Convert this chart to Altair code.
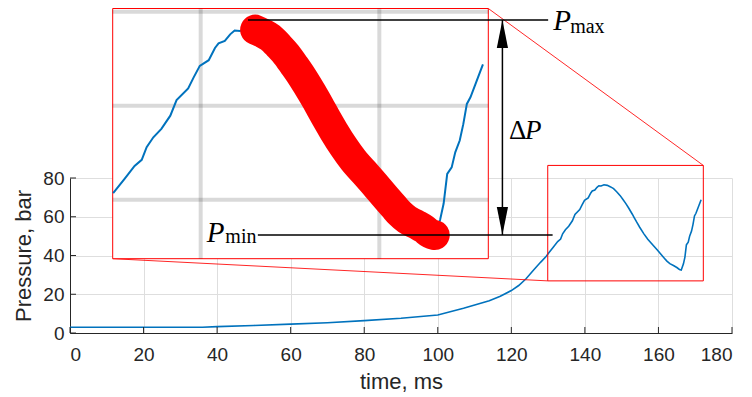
import altair as alt
import pandas as pd

# ---------------- data ----------------
TIME = [0, 36, 40, 50, 60, 70, 80, 90, 100, 107, 114, 117, 120, 122, 124, 126, 128, 129.5,
        130.2, 131.5, 132.6, 133.4, 133.95, 134.7, 135.6, 136.6, 137.3, 138.6, 139.2, 139.9,
        140.9, 141.6, 142.0, 142.7, 143.3, 143.8, 144.4, 145.2, 146.1, 147.0, 147.8, 148.7,
        149.6, 150.4, 151.1, 151.9, 152.9, 153.4, 154.1, 154.9, 156.0, 157.1, 158.6,
        159.7, 160.5, 161.6, 162.3, 163.1, 164.2, 165.0, 165.7, 166.2, 166.8, 167.2, 167.6,
        168.1, 168.5, 169.0, 169.4, 169.8, 170.2, 170.9, 171.6]
PRESSURE = [3.0, 3.0, 3.3, 3.9, 4.6, 5.3, 6.4, 7.6, 9.3, 12.8, 16.7, 19.0, 21.9, 24.5, 28.0, 32.4, 36.6, 39.6,
            41.4, 44.5, 47.2, 48.5, 51.2, 53.3, 55.1, 57.9, 61.2, 63.7, 66.0, 68.5,
            69.7, 72.3, 73.3, 73.8, 75.2, 76.0, 75.9, 76.5, 76.2, 75.4, 74.5, 72.8,
            70.9, 68.8, 66.9, 64.5, 61.3, 59.6, 57.2, 54.6, 51.3, 48.4, 45.2,
            42.8, 41.0, 38.6, 37.1, 35.8, 34.7, 33.8, 32.8, 32.5, 35.7, 39.2, 45.5,
            46.9, 50.1, 52.6, 56.1, 60.4, 61.8, 65.3, 68.8]

X_TICKS = [0, 20, 40, 60, 80, 100, 120, 140, 160, 180]
Y_TICKS = [0, 20, 40, 60, 80]
X_DOMAIN = [0, 180]
Y_DOMAIN = [0, 80]

# zoom window drawn on the main axes
ZOOM_T = [129.9, 172.2]
ZOOM_P = [26.9, 86.5]

# inset axes limits and grid
INSET_T = [130.15, 172.2]
INSET_P = [27.47, 80.7]
INSET_GRID_T = [140, 160]
INSET_GRID_P = [40, 60, 80]

# highlighted segment (max -> min)
SEG_T = [146.0, 166.2]

# annotation levels (inset units)
PMAX_LEVEL = 78.26
PMIN_LEVEL = 32.51
PMAX_LINE_T = [145.3, 178.9]
PMIN_LINE_T = [146.4, 179.4]
ARROW_T = 173.78

# ---------------- layout ----------------
W, H = 662, 155
PAD = {"left": 62, "top": 170, "right": 12, "bottom": 62}
INSET_RANGE_X = [42.7, 418.3]
INSET_RANGE_Y = [80.7, -169.5]

BLUE = "#0072BD"
TXT = "#262626"

curve = pd.DataFrame({"t": TIME, "P": PRESSURE})

XS = alt.Scale(domain=X_DOMAIN, nice=False, zero=False)
YS = alt.Scale(domain=Y_DOMAIN, nice=False, zero=False)
XA = alt.Axis(values=X_TICKS, title="time, ms", grid=True, ticks=False,
              labelPadding=12, titlePadding=7, format="d")
YA = alt.Axis(values=Y_TICKS, title="Pressure, bar", grid=True, ticks=False,
              labelPadding=6, titlePadding=7, format="d")


def mx(field):
    return alt.X(f"{field}:Q", scale=XS, axis=XA)


def my(field):
    return alt.Y(f"{field}:Q", scale=YS, axis=YA)


main_line = alt.Chart(curve).mark_line(color=BLUE, strokeWidth=1.6).encode(
    x=mx("t"), y=my("P"))

xt = alt.Chart(pd.DataFrame({"t": X_TICKS})).mark_rule(color=TXT, strokeWidth=1).encode(
    x=mx("t"), y=alt.value(H), y2=alt.value(H - 6))
yt = alt.Chart(pd.DataFrame({"P": Y_TICKS})).mark_rule(color=TXT, strokeWidth=1).encode(
    y=my("P"), x=alt.value(0), x2=alt.value(6))

zoom_rect = alt.Chart(pd.DataFrame({"t": [ZOOM_T[0]], "t2": [ZOOM_T[1]],
                                    "P": [ZOOM_P[0]], "P2": [ZOOM_P[1]]})).mark_rect(
    fillOpacity=0, stroke="red", strokeWidth=1).encode(
    x=mx("t"), x2="t2:Q", y=my("P"), y2="P2:Q")

# inset corners expressed in main-axis units (from the inset layout)
bl_t = INSET_RANGE_X[0] / W * (X_DOMAIN[1] - X_DOMAIN[0])
bl_p = (H - INSET_RANGE_Y[0]) / H * (Y_DOMAIN[1] - Y_DOMAIN[0])
tr_t = INSET_RANGE_X[1] / W * (X_DOMAIN[1] - X_DOMAIN[0])
tr_p = (H - INSET_RANGE_Y[1]) / H * (Y_DOMAIN[1] - Y_DOMAIN[0])
conn = pd.DataFrame({"t": [bl_t, tr_t], "P": [bl_p, tr_p],
                     "t2": [ZOOM_T[0], ZOOM_T[1]], "P2": [ZOOM_P[0], ZOOM_P[1]]})
connectors = alt.Chart(conn).mark_rule(color="red", strokeWidth=1, opacity=0.85).encode(
    x=mx("t"), x2="t2:Q", y=my("P"), y2="P2:Q")

main = alt.layer(main_line, xt, yt, zoom_rect, connectors)

# ---------------- inset ----------------
IXS = alt.Scale(domain=INSET_T, range=INSET_RANGE_X, nice=False, zero=False)
IYS = alt.Scale(domain=INSET_P, range=INSET_RANGE_Y, nice=False, zero=False)


def ix(field):
    return alt.X(f"{field}:Q", scale=IXS, axis=None)


def iy(field):
    return alt.Y(f"{field}:Q", scale=IYS, axis=None)


bg = alt.Chart(pd.DataFrame({"t1": [INSET_T[0]], "t2": [INSET_T[1]],
                             "p1": [INSET_P[0]], "p2": [INSET_P[1]]})).mark_rect(
    fill="white", stroke="red", strokeWidth=1).encode(
    x=ix("t1"), x2="t2:Q", y=iy("p1"), y2="p2:Q")

gv = alt.Chart(pd.DataFrame({"t": INSET_GRID_T, "p1": INSET_P[0], "p2": INSET_P[1]})).mark_rule(
    color="black", opacity=0.15, strokeWidth=4).encode(
    x=ix("t"), y=iy("p1"), y2="p2:Q")
gh = alt.Chart(pd.DataFrame({"p": INSET_GRID_P, "t1": INSET_T[0], "t2": INSET_T[1]})).mark_rule(
    color="black", opacity=0.15, strokeWidth=4).encode(
    y=iy("p"), x=ix("t1"), x2="t2:Q")

inset_line = alt.Chart(curve).transform_filter(alt.datum.t >= INSET_T[0]).mark_line(
    color=BLUE, strokeWidth=2).encode(x=ix("t"), y=iy("P"))

red_seg = alt.Chart(curve).transform_filter(
    (alt.datum.t >= SEG_T[0]) & (alt.datum.t <= SEG_T[1])).mark_line(
    color="red", strokeWidth=30, strokeCap="round", strokeJoin="round",
    interpolate="monotone").encode(x=ix("t"), y=iy("P"))

lines_df = pd.DataFrame({"name": ["max", "min"],
                         "t1": [PMAX_LINE_T[0], PMIN_LINE_T[0]],
                         "t2": [PMAX_LINE_T[1], PMIN_LINE_T[1]],
                         "p": [PMAX_LEVEL, PMIN_LEVEL]})
hlines = alt.Chart(lines_df).mark_rule(color="black", strokeWidth=1.5).encode(
    x=ix("t1"), x2="t2:Q", y=iy("p"))

arrow_df = pd.DataFrame({"t": [ARROW_T], "p1": [PMIN_LEVEL], "p2": [PMAX_LEVEL],
                         "pm": [(PMIN_LEVEL + PMAX_LEVEL) / 2]})
shaft = alt.Chart(arrow_df).mark_rule(color="black", strokeWidth=1.5).encode(
    x=ix("t"), y=iy("p1"), y2="p2:Q")
head_up = alt.Chart(arrow_df).mark_point(
    shape="M0,0L-0.4,2L0.4,2Z", size=784, filled=True, color="black", opacity=1, strokeWidth=0).encode(
    x=ix("t"), y=iy("p2"))
head_dn = alt.Chart(arrow_df).mark_point(
    shape="M0,0L-0.4,-2L0.4,-2Z", size=784, filled=True, color="black", opacity=1, strokeWidth=0).encode(
    x=ix("t"), y=iy("p1"))


def label(flt, xfield, yfield, text, size, italic, dx, dy, data):
    kw = dict(text=text, font="Liberation Serif", fontSize=size, align="left",
              baseline="alphabetic", dx=dx, dy=dy, color="black")
    if italic:
        kw["fontStyle"] = "italic"
    ch = alt.Chart(data)
    if flt is not None:
        ch = ch.transform_filter(flt)
    return ch.mark_text(**kw).encode(x=ix(xfield), y=iy(yfield))


txt_pmax = label(alt.datum.name == "max", "t2", "p", "P", 29, True, 5, 10, lines_df)
txt_max = label(alt.datum.name == "max", "t2", "p", "max", 20, False, 22, 13.5, lines_df)
txt_pmin = label(alt.datum.name == "min", "t1", "p", "P", 29, True, -51, 6.7, lines_df)
txt_min = label(alt.datum.name == "min", "t1", "p", "min", 20, False, -32.5, 8.3, lines_df)
txt_d = label(None, "t", "pm", "Δ", 27, False, 6.7, 11.8, arrow_df)
txt_dp = label(None, "t", "pm", "P", 27, True, 22.7, 11.8, arrow_df)

inset = alt.layer(bg, gv, gh, inset_line, red_seg, hlines, shaft, head_up, head_dn,
                  txt_pmax, txt_max, txt_pmin, txt_min, txt_d, txt_dp)

chart = alt.layer(main, inset).resolve_scale(
    x="independent", y="independent"
).resolve_axis(
    x="independent", y="independent"
).properties(
    width=W, height=H,
    autosize=alt.AutoSizeParams(type="none"),
    padding=PAD,
).configure_view(strokeWidth=0).configure_axis(
    labelFont="Liberation Sans", titleFont="Liberation Sans",
    labelFontSize=19, titleFontSize=22, titleFontWeight="normal",
    labelColor=TXT, titleColor=TXT, domainColor=TXT, domainWidth=1,
    gridColor="#dedede", gridWidth=1,
)

chart.save("out.html", embed_options={"renderer": "svg", "actions": False})
